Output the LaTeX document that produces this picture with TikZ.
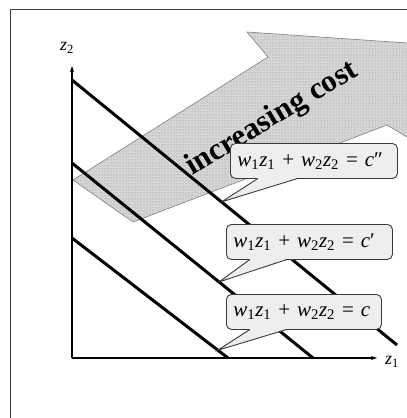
\documentclass[tikz,border=0pt]{standalone}
\usepackage{fontspec}
\setmainfont{Liberation Serif}[ItalicFont={Liberation Serif Italic},
  BoldFont={Liberation Serif Bold}]
\usepackage{xcolor}
\definecolor{cInk}{HTML}{000000}
\definecolor{cFrame}{HTML}{404040}
\definecolor{cBoxFill}{HTML}{EEEEEE}
\definecolor{cBoxLine}{HTML}{3A3A3A}
\definecolor{cArrowFill}{HTML}{D6D6D6}
\definecolor{cArrowDots}{HTML}{8C8C8C}
\usepackage{tikz}
\usetikzlibrary{positioning,arrows.meta,calc,patterns}
\tikzset{
  axis/.style={-{Stealth[length=6pt,width=4pt]},line width=1.4pt,draw=cInk},
  iso-line/.style={line width=3pt,draw=cInk},
  eq-box/.style={draw=cBoxLine,fill=cBoxFill,line width=0.9pt,rounded corners=5pt,
    minimum height=35pt,inner xsep=7pt,align=left,anchor=north west,
    font=\fontsize{21}{25}\selectfont},
  eq-tail/.style={fill=cBoxFill},
  eq-tail-line/.style={draw=cBoxLine,line width=0.9pt},
  cost-arrow/.style={draw=gray,line width=0.6pt,fill=cArrowFill},
  cost-dots/.style={pattern=dots,pattern color=cArrowDots},
  axis-label/.style={font=\fontsize{18}{20}\selectfont},
}
\newcommand{\isocost}[1]{\textit{w}\textsubscript{1}\textit{z}\textsubscript{1}
  + \textit{w}\textsubscript{2}\textit{z}\textsubscript{2} = \textit{c}#1}

\begin{document}
\begin{tikzpicture}[x=1pt,y=-1pt]
  \useasboundingbox (0,0) rectangle (407,418);
  \clip (0,0) rectangle (407,418);
  \draw[cFrame,line width=1pt] (10,430) -- (10,9) -- (420,9);

  % direction of growing cost
  \path[cost-arrow] (73,180) -- (268,57) -- (247,32) -- (460,46.6) -- (440,157)
    -- (387,125) -- (133,222) -- cycle;
  \path[cost-dots] (73,180) -- (268,57) -- (247,32) -- (460,46.6) -- (440,157)
    -- (387,125) -- (133,222) -- cycle;
  \node[rotate=31,font=\fontsize{31}{33}\selectfont\bfseries] (cost) at (272,119)
    {increasing cost};

  % axes
  \coordinate (O) at (72,358);
  \coordinate (z2-end) at (72,66);
  \coordinate (z1-end) at (377,358);
  \draw[axis] (O) -- (z2-end);
  \draw[axis] (O) -- (z1-end);
  \node[axis-label] (z2) at (67,48) {\textit{z}\textsubscript{2}};
  \node[axis-label] (z1) at (392,362) {\textit{z}\textsubscript{1}};

  % iso-cost lines
  \draw[iso-line] (72,238) -- coordinate[pos=0.935] (tip-c0) (228,358);
  \draw[iso-line] (72,163) -- coordinate[pos=0.61] (tip-c1) (313,358);
  \draw[iso-line] (72,80) -- coordinate[pos=0.46] (tip-c2) (397,345);

  % labels
  \node[eq-box,text width=153pt] (eq-c2) at (230,143) {\isocost{″}};
  \node[eq-box,text width=152pt] (eq-c1) at (226,224) {\isocost{′}};
  \node[eq-box,text width=141pt] (eq-c0) at (226,294) {\isocost{}};
  \foreach \b/\t/\l/\r in {eq-c2/tip-c2/28/68,eq-c1/tip-c1/24/61,eq-c0/tip-c0/24/61}{
    \fill[eq-tail] ($(\b.south west)+(\l,-1)$) -- (\t) -- ($(\b.south west)+(\r,-1)$) -- cycle;
    \draw[eq-tail-line] ($(\b.south west)+(\l,-0.5)$) -- (\t) -- ($(\b.south west)+(\r,-0.5)$);
  }
\end{tikzpicture}
\end{document}
